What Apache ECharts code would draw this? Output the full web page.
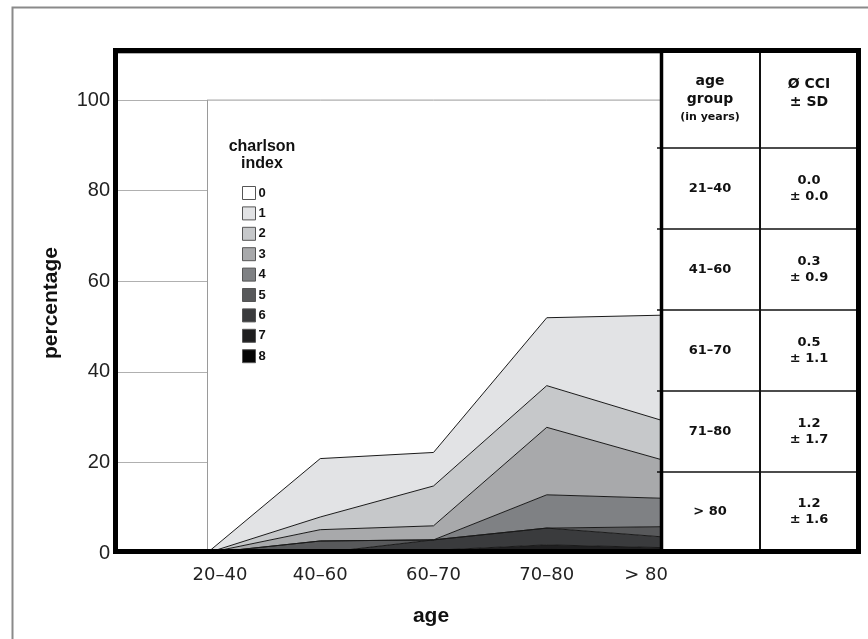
<!DOCTYPE html>
<html>
<head>
<meta charset="utf-8">
<script src="https://cdn.jsdelivr.net/npm/echarts@6/dist/echarts.min.js"></script>
<style>
  html, body { margin: 0; padding: 0; background: #fff; }
  #chart { width: 868px; height: 639px; }
</style>
</head>
<body>
<div id="chart"></div>
<script>
// age groups on the x axis
var ageGroups = ['20–40', '40–60', '60–70', '70–80', '> 80'];

// percentage of patients per charlson index, one array per index
var cci0 = [100, 79.15, 77.8, 48.05, 47.5];
var cci1 = [0, 12.9, 7.4, 15.0, 23.1];
var cci2 = [0, 2.8, 8.8, 9.2, 8.7];
var cci3 = [0, 2.5, 3.1, 14.9, 8.6];
var cci4 = [0, 0, 0, 7.35, 6.3];
var cci5 = [0, 2.65, 0, 0, 2.2];
var cci6 = [0, 0, 2.3, 3.7, 2.4];
var cci7 = [0, 0, 0.6, 1.0, 0.7];
var cci8 = [0, 0, 0, 0.8, 0.5];

var yTicks = [0, 20, 40, 60, 80, 100];

// table at the right
var tableGroups = ['21–40', '41–60', '61–70', '71–80', '> 80'];
var tableMean = ['0.0', '0.3', '0.5', '1.2', '1.2'];
var tableSd = ['0.0', '0.9', '1.1', '1.7', '1.6'];

var indexNames = ['0', '1', '2', '3', '4', '5', '6', '7', '8'];
var indexData = [cci0, cci1, cci2, cci3, cci4, cci5, cci6, cci7, cci8];
var indexColors = ['#ffffff', '#e2e3e5', '#c6c8ca', '#a8a9ab', '#7f8184', '#58595b', '#3a3b3d', '#1f1f20', '#050505'];

var chart = echarts.init(document.getElementById('chart'));

// stacking goes bottom-up, so index 8 first and index 0 last
var series = [];
for (var k = indexNames.length - 1; k >= 0; k--) {
    var s = {
        name: indexNames[k],
        type: 'line',
        xAxisIndex: 1,
        yAxisIndex: 1,
        stack: 'total',
        symbol: 'none',
        silent: true,
        color: indexColors[k],
        itemStyle: { color: indexColors[k] },
        lineStyle: { color: k == 0 ? '#9a9a9a' : '#1a1a1a', width: 1 },
        areaStyle: { color: indexColors[k], opacity: 1 },
        data: indexData[k]
    };
    if (k == 0) {
        s.markLine = {
            silent: true,
            symbol: 'none',
            label: { show: false },
            lineStyle: { color: '#9a9a9a', type: 'solid', width: 1 },
            data: [[{ coord: [ageGroups[0], 0] }, { coord: [ageGroups[0], 100] }]]
        };
    }
    series.push(s);
}

// table graphics
var graphics = [];
var rowLines = [148, 229, 310, 391, 472, 551];
var txt = function (text, x, y, size) {
    return {
        type: 'text', z: 100,
        style: {
            text: text, x: x, y: y, align: 'center', verticalAlign: 'middle',
            font: 'bold ' + size + 'px "DejaVu Sans"', fill: '#111'
        }
    };
};
graphics.push(txt('age', 710, 81, 14));
graphics.push(txt('group', 710, 99, 14));
graphics.push(txt('(in years)', 710, 117, 11));
graphics.push(txt('Ø CCI', 809, 84, 14));
graphics.push(txt('± SD', 809, 102, 14));
for (var r = 0; r < tableGroups.length; r++) {
    var cy = (rowLines[r] + rowLines[r + 1]) / 2;
    graphics.push(txt(tableGroups[r], 710, cy, 13));
    graphics.push(txt(tableMean[r], 809, cy - 8, 13));
    graphics.push(txt('± ' + tableSd[r], 809, cy + 8, 13));
}
for (var r = 0; r < 5; r++) {
    graphics.push({
        type: 'line', z: 100,
        shape: { x1: 657, y1: rowLines[r], x2: 858, y2: rowLines[r] },
        style: { stroke: '#111', lineWidth: 1.5 }
    });
}
graphics.push({
    type: 'line', z: 100,
    shape: { x1: 760, y1: 50, x2: 760, y2: 551 },
    style: { stroke: '#111', lineWidth: 2 }
});
graphics.push({
    type: 'line', z: 101,
    shape: { x1: 661.5, y1: 50, x2: 661.5, y2: 552 },
    style: { stroke: '#000', lineWidth: 3.5 }
});
// thick frame
graphics.push({
    type: 'rect', z: 102,
    shape: { x: 115.5, y: 50.5, width: 743, height: 501 },
    style: { fill: 'none', stroke: '#000', lineWidth: 5 }
});
// thin outer border (left and top visible)
graphics.push({
    type: 'polyline', z: 100,
    shape: { points: [[12.5, 639], [12.5, 7.5], [868, 7.5]] },
    style: { fill: 'none', stroke: '#8a8a8a', lineWidth: 2 }
});
// legend caption
graphics.push({
    type: 'text', z: 100,
    style: {
        text: 'charlson\nindex', x: 262, y: 155, align: 'center', verticalAlign: 'middle',
        font: 'bold 16px "Liberation Sans"', lineHeight: 17, fill: '#111'
    }
});
// x axis name
graphics.push({
    type: 'text', z: 100,
    style: {
        text: 'age', x: 431, y: 616, align: 'center', verticalAlign: 'middle',
        font: 'bold 21px "Liberation Sans"', fill: '#111'
    }
});

var option = {
    animation: false,
    backgroundColor: '#fff',
    grid: [
        { left: 118, right: 208, top: 53, bottom: 86 },
        { left: 207, right: 208, top: 53, bottom: 86 }
    ],
    legend: {
        data: indexNames,
        orient: 'vertical',
        left: 237,
        top: 181,
        icon: 'rect',
        itemWidth: 13,
        itemHeight: 13,
        itemGap: 6.4,
        selectedMode: false,
        itemStyle: { borderColor: '#555', borderWidth: 1 },
        textStyle: { fontFamily: 'Liberation Sans', fontWeight: 'bold', fontSize: 13, color: '#111', padding: [0, 0, 0, -2] }
    },
    xAxis: [{
        gridIndex: 0,
        type: 'value',
        min: 0,
        max: 1,
        show: false
    }, {
        gridIndex: 1,
        type: 'category',
        boundaryGap: false,
        data: ageGroups,
        axisLine: { show: false },
        axisTick: { show: false },
        splitLine: { show: false },
        axisLabel: {
            margin: 13,
            fontFamily: 'DejaVu Sans',
            fontSize: 18,
            color: '#222',
            interval: 0,
            formatter: function (v, i) {
                if (i == 0) return '{a|' + v + '}';
                if (i == ageGroups.length - 1) return '{b|' + v + '}';
                return v;
            },
            rich: {
                a: { fontFamily: 'DejaVu Sans', fontSize: 18, color: '#222', padding: [0, 0, 0, 26] },
                b: { fontFamily: 'DejaVu Sans', fontSize: 18, color: '#222', padding: [0, 28, 0, 0] }
            }
        }
    }],
    yAxis: [{
        gridIndex: 0,
        type: 'value',
        min: 0,
        max: 110.4,
        interval: 20,
        name: 'percentage',
        nameLocation: 'middle',
        nameGap: 56,
        nameTextStyle: { fontFamily: 'Liberation Sans', fontWeight: 'bold', fontSize: 21, color: '#111' },
        axisLine: { show: false },
        axisTick: { show: false },
        axisLabel: {
            showMaxLabel: false,
            margin: 8,
            fontFamily: 'Liberation Sans',
            fontSize: 20,
            color: '#222',
            formatter: function (v) { return yTicks.indexOf(v) >= 0 ? String(v) : ''; }
        },
        splitLine: { lineStyle: { color: '#b0b0b0', width: 1 } }
    }, {
        gridIndex: 1,
        type: 'value',
        min: 0,
        max: 110.4,
        show: false
    }],
    graphic: graphics,
    series: series
};

chart.setOption(option);
</script>
</body>
</html>
